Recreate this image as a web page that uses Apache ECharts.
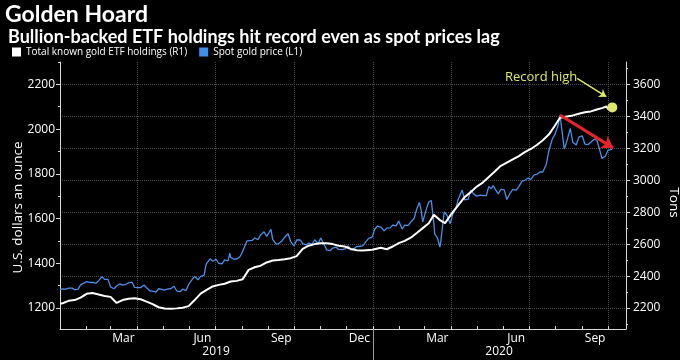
<!DOCTYPE html>
<html><head><meta charset="utf-8">
<script src="https://cdn.jsdelivr.net/npm/echarts@6/dist/echarts.min.js"></script>
<style>html,body{margin:0;padding:0;background:#000;}#c{width:680px;height:360px;}</style>
</head><body><div id="c"></div>
<script>
// ---------------- data ----------------
// Spot gold price, USD/oz (left axis)
const priceDates = [
'2019-01-01','2019-01-04','2019-01-08','2019-01-11','2019-01-15','2019-01-18','2019-01-22','2019-01-25','2019-01-29','2019-02-01',
'2019-02-05','2019-02-08','2019-02-12','2019-02-15','2019-02-19','2019-02-20','2019-02-22','2019-02-26','2019-03-01','2019-03-05',
'2019-03-08','2019-03-12','2019-03-15','2019-03-19','2019-03-22','2019-03-26','2019-03-29','2019-04-02','2019-04-05','2019-04-09',
'2019-04-12','2019-04-16','2019-04-19','2019-04-23','2019-04-26','2019-04-30','2019-05-03','2019-05-07','2019-05-10','2019-05-14',
'2019-05-17','2019-05-21','2019-05-24','2019-05-28','2019-05-31','2019-06-04','2019-06-07','2019-06-11','2019-06-14','2019-06-18',
'2019-06-20','2019-06-21','2019-06-25','2019-06-28','2019-07-02','2019-07-05','2019-07-09','2019-07-12','2019-07-16','2019-07-18',
'2019-07-19','2019-07-23','2019-07-26','2019-07-30','2019-08-01','2019-08-02','2019-08-07','2019-08-09','2019-08-13','2019-08-16',
'2019-08-20','2019-08-23','2019-08-27','2019-08-30','2019-09-04','2019-09-06','2019-09-10','2019-09-13','2019-09-17','2019-09-20',
'2019-09-24','2019-09-27','2019-10-01','2019-10-04','2019-10-08','2019-10-11','2019-10-15','2019-10-18','2019-10-22','2019-10-25',
'2019-10-29','2019-11-01','2019-11-05','2019-11-08','2019-11-12','2019-11-15','2019-11-19','2019-11-22','2019-11-26','2019-11-29',
'2019-12-03','2019-12-06','2019-12-10','2019-12-13','2019-12-17','2019-12-20','2019-12-24','2019-12-27','2019-12-31','2020-01-03',
'2020-01-06','2020-01-08','2020-01-10','2020-01-14','2020-01-17','2020-01-21','2020-01-24','2020-01-28','2020-01-31','2020-02-04',
'2020-02-07','2020-02-11','2020-02-14','2020-02-18','2020-02-21','2020-02-24','2020-02-26','2020-02-28','2020-03-03','2020-03-06',
'2020-03-09','2020-03-12','2020-03-13','2020-03-16','2020-03-19','2020-03-20','2020-03-24','2020-03-27','2020-03-31','2020-04-03',
'2020-04-07','2020-04-09','2020-04-14','2020-04-17','2020-04-21','2020-04-24','2020-04-28','2020-05-01','2020-05-05','2020-05-08',
'2020-05-12','2020-05-15','2020-05-18','2020-05-20','2020-05-22','2020-05-26','2020-05-29','2020-06-02','2020-06-05','2020-06-09',
'2020-06-12','2020-06-16','2020-06-19','2020-06-23','2020-06-26','2020-06-30','2020-07-03','2020-07-07','2020-07-10','2020-07-14',
'2020-07-17','2020-07-21','2020-07-24','2020-07-28','2020-07-31','2020-08-04','2020-08-06','2020-08-07','2020-08-11','2020-08-14',
'2020-08-18','2020-08-21','2020-08-25','2020-08-28','2020-09-01','2020-09-04','2020-09-08','2020-09-11','2020-09-15','2020-09-18',
'2020-09-21','2020-09-24','2020-09-28','2020-10-01','2020-10-06'];
const goldPrice = [
1282,1285,1284,1289,1289,1282,1283,1303,1311,1318,
1314,1314,1311,1322,1340,1346,1328,1328,1294,1286,
1298,1308,1302,1306,1312,1316,1292,1291,1291,1303,
1290,1276,1275,1271,1286,1283,1280,1285,1286,1297,
1277,1273,1284,1278,1305,1327,1341,1326,1341,1346,
1389,1399,1420,1409,1418,1400,1397,1415,1411,1445,
1426,1418,1419,1430,1445,1440,1500,1497,1502,1513,
1506,1527,1541,1520,1552,1507,1486,1488,1501,1516,
1532,1497,1478,1504,1505,1488,1482,1490,1486,1505,
1488,1513,1484,1459,1456,1468,1472,1462,1461,1464,
1478,1460,1465,1475,1476,1478,1498,1511,1517,1552,
1566,1573,1562,1545,1557,1558,1571,1567,1589,1553,
1570,1569,1584,1601,1643,1672,1640,1585,1640,1674,
1680,1575,1530,1515,1472,1498,1630,1617,1577,1620,
1648,1683,1727,1683,1687,1727,1707,1700,1705,1702,
1702,1743,1733,1747,1735,1710,1730,1728,1685,1714,
1730,1727,1743,1768,1771,1781,1775,1795,1798,1809,
1808,1842,1902,1955,1975,2019,2063,2035,1911,1945,
2003,1941,1929,1964,1970,1933,1931,1941,1955,1950,
1912,1868,1880,1905,1910];

// Total known gold ETF holdings, tons (right axis)
const etfDates = [
'2019-01-01','2019-01-04','2019-01-11','2019-01-18','2019-01-25','2019-02-01','2019-02-08','2019-02-15','2019-02-22','2019-03-01',
'2019-03-08','2019-03-15','2019-03-22','2019-03-29','2019-04-05','2019-04-12','2019-04-19','2019-04-26','2019-05-03','2019-05-10',
'2019-05-17','2019-05-24','2019-05-31','2019-06-07','2019-06-14','2019-06-21','2019-06-28','2019-07-05','2019-07-12','2019-07-19',
'2019-07-26','2019-08-02','2019-08-09','2019-08-16','2019-08-23','2019-08-30','2019-09-06','2019-09-13','2019-09-20','2019-09-27',
'2019-10-04','2019-10-11','2019-10-18','2019-10-25','2019-11-01','2019-11-08','2019-11-15','2019-11-22','2019-11-29','2019-12-06',
'2019-12-13','2019-12-20','2019-12-31','2020-01-10','2020-01-17','2020-01-24','2020-01-31','2020-02-07','2020-02-14','2020-02-21',
'2020-02-28','2020-03-06','2020-03-12','2020-03-19','2020-03-25','2020-04-03','2020-04-09','2020-04-17','2020-04-24','2020-05-01',
'2020-05-08','2020-05-15','2020-05-22','2020-05-29','2020-06-05','2020-06-12','2020-06-19','2020-06-26','2020-07-03','2020-07-10',
'2020-07-17','2020-07-24','2020-07-31','2020-08-06','2020-08-14','2020-08-21','2020-08-28','2020-09-04','2020-09-11','2020-09-18',
'2020-09-25','2020-09-29','2020-10-01','2020-10-06'];
const etfHoldings = [
2227,2230,2245,2250,2265,2289,2294,2285,2276,2270,
2232,2250,2258,2262,2255,2240,2225,2205,2197,2196,
2198,2202,2212,2250,2290,2314,2335,2345,2352,2366,
2370,2380,2439,2455,2465,2485,2497,2500,2505,2512,
2525,2570,2590,2600,2605,2606,2600,2590,2585,2570,
2562,2560,2565,2577,2568,2585,2606,2620,2640,2670,
2700,2730,2783,2750,2731,2800,2840,2895,2925,2960,
2985,3020,3054,3090,3110,3130,3150,3175,3195,3220,
3250,3285,3340,3390,3398,3405,3415,3425,3430,3442,
3452,3462,3445,3455];

// axis ticks & labels
const leftMajor = [1200,1400,1600,1800,2000,2200];
const leftMinor = [1300,1500,1700,1900,2100,2300];
const rightMajor = [2200,2400,2600,2800,3000,3200,3400,3600];
const rightMinor = [2100,2300,2500,2700,2900,3100,3300,3500,3700];
const monthTicks = ['2019-02-01','2019-03-01','2019-04-01','2019-05-01','2019-06-01','2019-07-01','2019-08-01','2019-09-01','2019-10-01','2019-11-01','2019-12-01',
 '2020-01-01','2020-02-01','2020-03-01','2020-04-01','2020-05-01','2020-06-01','2020-07-01','2020-08-01','2020-09-01','2020-10-01'];
const quarterLines = ['2019-04-01','2019-07-01','2019-10-01','2020-01-01','2020-04-01','2020-07-01','2020-10-01'];
const monthLabelDates = ['2019-03-16','2019-06-16','2019-09-16','2019-12-16','2020-03-16','2020-06-16','2020-09-16'];
const monthLabels = ['Mar','Jun','Sep','Dec','Mar','Jun','Sep'];
const yearLabelDates = ['2019-07-02','2020-05-27'];
const yearLabels = ['2019','2020'];
const yearDivider = ['2020-01-01'];

// annotations
const arrowFrom = ['2020-08-06', 2063];
const arrowTo = ['2020-10-07', 1916];
const noteText = 'Record high';
const notePos = ['2020-07-15', 3644];
const curveFrom = ['2020-08-26', 3636];
const curveTo = ['2020-09-29', 3522];

// ---------------- chart ----------------
const T = s => Date.parse(s);
const X_MIN = T('2019-01-01'), X_MAX = T('2020-10-22');
const FONT = 'Open Sans';
const AX = '#d8d8d8';
const GRID = '#4a4a4a';
const BLUE = '#4a8fe6';
const YEL = '#dfe86a';
const plain = v => String(Math.round(v));

function lookup(vals, labels) {
  const ts = vals.map(T);
  return v => { let b = 0, bd = Infinity; ts.forEach((t,i)=>{const d=Math.abs(t-v); if(d<bd){bd=d;b=i;}}); return labels[b]; };
}

const chart = echarts.init(document.getElementById('c'), null, {renderer:'canvas'});
chart.setOption({
  backgroundColor: '#000',
  animation: false,
  title: [
    {text:'Golden Hoard', left:5, top:3, padding:0, textStyle:{color:'#fff', fontSize:23, fontWeight:'bold', fontFamily:'Lato'}},
    {text:'Bullion-backed ETF holdings hit record even as spot prices lag', left:8, top:28, padding:0, textStyle:{color:'#fff', fontSize:18, fontWeight:'bold', fontFamily:'Lato'}}
  ],
  legend: {
    left: 12, top: 47, padding:0, icon:'rect', itemWidth:9, itemHeight:9, itemGap:12,
    textStyle:{color:'#fff', fontSize:10, fontFamily:FONT},
    data:[{name:'Total known gold ETF holdings (R1)', itemStyle:{color:'#fff'}},
          {name:'Spot gold price (L1)', itemStyle:{color:'#3d8fe8'}}]
  },
  grid: {left:60, right:54, top:62, bottom:31, containLabel:false, outerBoundsMode:'none'},
  xAxis: [
    {type:'value', min:X_MIN, max:X_MAX, position:'bottom',
     axisLine:{show:true, lineStyle:{color:AX}},
     axisTick:{show:true, inside:true, length:3, customValues:monthTicks.map(T), lineStyle:{color:AX}},
     axisLabel:{customValues:monthLabelDates.map(T), formatter:lookup(monthLabelDates, monthLabels), color:'#fff', fontSize:12, margin:4, fontFamily:FONT},
     splitLine:{show:false}},
    {type:'value', min:X_MIN, max:X_MAX, position:'bottom',
     axisLine:{show:false}, axisTick:{show:false, customValues:quarterLines.map(T)}, axisLabel:{show:false},
     splitLine:{show:true, lineStyle:{color:GRID, width:1, type:[1,1]}}},
    {type:'value', min:X_MIN, max:X_MAX, position:'bottom',
     axisLine:{show:false},
     axisTick:{show:true, length:31, customValues:yearDivider.map(T), lineStyle:{color:'#9a9a9a'}},
     axisLabel:{customValues:yearLabelDates.map(T), formatter:lookup(yearLabelDates, yearLabels), color:'#fff', fontSize:12, margin:17, fontFamily:FONT},
     splitLine:{show:false}}
  ],
  yAxis: [
    {type:'value', position:'left', min:1106, max:2300,
     name:'U.S. dollars an ounce', nameLocation:'middle', nameGap:35, nameMoveOverlap:false,
     nameTextStyle:{color:'#fff', fontSize:13.5, fontFamily:FONT, padding:[0,24,0,0]},
     axisLine:{show:true, lineStyle:{color:AX}},
     axisTick:{show:true, length:4, customValues:leftMajor, lineStyle:{color:AX}},
     axisLabel:{customValues:leftMajor, formatter:plain, color:'#fff', fontSize:12, margin:5, fontFamily:FONT},
     splitLine:{show:false}},
    {type:'value', position:'right', min:2069, max:3739,
     name:'Tons', nameLocation:'middle', nameGap:41, nameRotate:-90, nameMoveOverlap:false,
     nameTextStyle:{color:'#fff', fontSize:13.5, fontFamily:FONT, padding:[0,0,0,14]},
     axisLine:{show:true, lineStyle:{color:AX}},
     axisTick:{show:true, length:4, customValues:rightMajor, lineStyle:{color:AX}},
     axisLabel:{customValues:rightMajor, formatter:plain, color:'#fff', fontSize:12, margin:7, fontFamily:FONT},
     splitLine:{show:true, lineStyle:{color:GRID, width:1, type:[1,1]}}},
    {type:'value', position:'left', min:1106, max:2300,
     axisLine:{show:false}, axisTick:{show:true, length:2, customValues:leftMinor, lineStyle:{color:AX}},
     axisLabel:{show:false}, splitLine:{show:false}},
    {type:'value', position:'right', min:2069, max:3739,
     axisLine:{show:false}, axisTick:{show:true, length:2, customValues:rightMinor, lineStyle:{color:AX}},
     axisLabel:{show:false}, splitLine:{show:false}}
  ],
  series: [
    {name:'Spot gold price (L1)', type:'line', xAxisIndex:0, yAxisIndex:0, z:2,
     data: priceDates.map((d,i)=>[T(d), goldPrice[i]]), showSymbol:false, symbol:'none',
     lineStyle:{color:BLUE, width:1.3}, itemStyle:{color:BLUE}},
    {name:'Total known gold ETF holdings (R1)', type:'line', xAxisIndex:0, yAxisIndex:1, z:3,
     data: etfDates.map((d,i)=>[T(d), etfHoldings[i]]), showSymbol:false, symbol:'none',
     lineStyle:{color:'#fff', width:2}, itemStyle:{color:'#fff'},
     markPoint:{silent:true, data:[
       {coord:[T(etfDates[etfDates.length-1]), etfHoldings[etfHoldings.length-1]], symbol:'circle', symbolSize:10, itemStyle:{color:YEL}, label:{show:false}},
       {coord:[T(notePos[0]), notePos[1]], symbol:'rect', symbolSize:[2,2], itemStyle:{color:'rgba(0,0,0,0)'},
        label:{show:true, position:'inside', formatter:noteText, color:YEL, fontSize:13, fontFamily:FONT}}
     ]},
     markLine:{silent:true, symbol:['none','arrow'], symbolSize:7, label:{show:false},
       lineStyle:{color:YEL, width:1.5, type:'solid', curveness:0.45},
       data:[[{coord:[T(curveFrom[0]), curveFrom[1]]},{coord:[T(curveTo[0]), curveTo[1]]}]]}},
    {name:'annot', type:'line', xAxisIndex:0, yAxisIndex:0, z:5, data:[],
     markLine:{silent:true, symbol:['none','arrow'], symbolSize:11, label:{show:false},
       lineStyle:{color:'#e8232b', width:3, type:'solid'},
       data:[[{coord:[T(arrowFrom[0]), arrowFrom[1]]},{coord:[T(arrowTo[0]), arrowTo[1]]}]]}}
  ]
});
</script></body></html>
